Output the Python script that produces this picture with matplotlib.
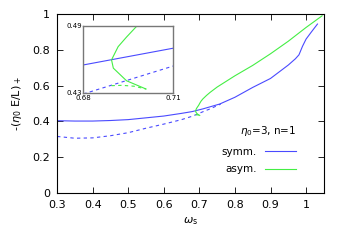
import matplotlib
matplotlib.use("Agg")
import matplotlib.pyplot as plt

# symmetric branch (solid + dashed)
symm_w = [0.30, 0.35, 0.40, 0.45, 0.50, 0.55, 0.60, 0.65, 0.68, 0.71, 0.757,
          0.80, 0.85, 0.90, 0.95, 0.97, 0.98, 0.99, 1.00, 1.015, 1.032]
symm_y = [0.404, 0.402, 0.402, 0.405, 0.41, 0.42, 0.43, 0.445, 0.455, 0.47, 0.497,
          0.535, 0.59, 0.64, 0.715, 0.75, 0.772, 0.82, 0.86, 0.90, 0.944]
symm_d_w = [0.30, 0.35, 0.40, 0.45, 0.50, 0.55, 0.60, 0.65, 0.68, 0.71, 0.73, 0.76]
symm_d_y = [0.316, 0.306, 0.308, 0.32, 0.337, 0.362, 0.385, 0.41, 0.429, 0.454, 0.47, 0.497]

# asymmetric branch
asym_w = [1.045, 1.00, 0.95, 0.90, 0.85, 0.80, 0.75, 0.73, 0.72, 0.71, 0.705, 0.701, 0.698,
          0.6945, 0.6917, 0.6895, 0.6901, 0.6945, 0.701]
asym_y = [0.99, 0.925, 0.848, 0.778, 0.713, 0.655, 0.592, 0.562, 0.545, 0.526, 0.514, 0.501, 0.49,
          0.480, 0.4714, 0.4596, 0.4522, 0.4409, 0.4335]
asym_d_w = [0.6895, 0.693, 0.697, 0.701]
asym_d_y = [0.4365, 0.4368, 0.436, 0.4335]

blue = "#4a4aff"
green = "#44ee44"

fig = plt.figure(figsize=(3.46, 2.42), dpi=100)
ax = fig.add_axes([0.165, 0.2025, 0.771, 0.7395])

ax.plot(symm_w, symm_y, color=blue, lw=0.8, label="symm.")
ax.plot(symm_d_w, symm_d_y, color=blue, lw=0.8, ls=(0, (3, 3)))
ax.plot(asym_w, asym_y, color=green, lw=0.8, label="asym.")
ax.plot(asym_d_w, asym_d_y, color=green, lw=0.8, ls=(0, (3, 3)))

ax.set_xlim(0.3, 1.05)
ax.set_ylim(0, 1)
ax.set_xticks([0.3, 0.4, 0.5, 0.6, 0.7, 0.8, 0.9, 1.0])
ax.set_xticklabels(["0.3", "0.4", "0.5", "0.6", "0.7", "0.8", "0.9", "1"])
ax.set_yticks([0, 0.2, 0.4, 0.6, 0.8, 1.0])
ax.set_yticklabels(["0", "0.2", "0.4", "0.6", "0.8", "1"])
ax.tick_params(direction="in", top=True, right=True, labelsize=8, length=4, width=0.6, pad=5)
for s in ax.spines.values():
    s.set_linewidth(0.8)
ax.set_xlabel(r"$\omega_\mathrm{s}$", fontsize=8, labelpad=4)
ax.set_ylabel(r"-($\eta_0$ E/L)$_+$", fontsize=8, labelpad=6)

leg = ax.legend(loc="lower right", bbox_to_anchor=(0.915, 0.075), frameon=False, fontsize=7.5,
                title=r"$\eta_0$=3, n=1", title_fontsize=7.5, markerfirst=False,
                handlelength=3.0, borderpad=0.0, labelspacing=0.75, handletextpad=0.8)
leg._legend_box.align = "right"
leg._legend_box.sep = 6

# inset
axi = fig.add_axes([0.240, 0.616, 0.260, 0.277])
axi.plot(symm_w, symm_y, color=blue, lw=0.8)
axi.plot(symm_d_w, symm_d_y, color=blue, lw=0.8, ls=(0, (3, 3)))
axi.plot(asym_w, asym_y, color=green, lw=0.8)
axi.plot(asym_d_w, asym_d_y, color=green, lw=0.8, ls=(0, (3, 3)))
axi.set_xlim(0.68, 0.71)
axi.set_ylim(0.43, 0.49)
axi.set_xticks([0.68, 0.71])
axi.set_yticks([0.43, 0.49])
axi.tick_params(axis="x", length=0, labelsize=5, pad=1.5)
axi.tick_params(axis="y", length=0, labelsize=5, pad=1)
for s in axi.spines.values():
    s.set_color("#777777")
    s.set_linewidth(1.0)

fig.savefig("out.png", dpi=100)
